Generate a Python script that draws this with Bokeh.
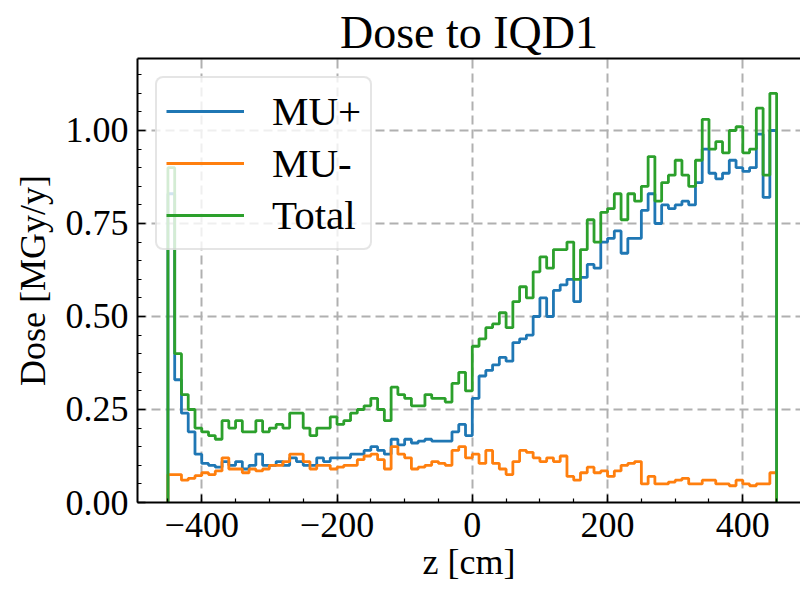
import numpy as np
from bokeh.plotting import figure
from bokeh.models import Range1d, FixedTicker, LinearAxis, Legend, LegendItem
from bokeh.embed import file_html
from bokeh.resources import INLINE

# ---- data (10 cm bins along z, values in MGy/y) ----
z_edges = list(range(-450, 451, 10))

mu_plus = [
    0.83, 0.33, 0.24, 0.19, 0.13, 0.105, 0.10, 0.095, 0.11, 0.10,
    0.11, 0.09, 0.10, 0.13, 0.10, 0.10, 0.11, 0.10, 0.12, 0.11,
    0.10, 0.10, 0.12, 0.11, 0.12, 0.12, 0.12, 0.13, 0.13, 0.14,
    0.15, 0.14, 0.13, 0.17, 0.155, 0.17, 0.16, 0.165, 0.17, 0.165,
    0.165, 0.165, 0.19, 0.21, 0.18, 0.28, 0.34, 0.355, 0.37, 0.39,
    0.38, 0.43, 0.44, 0.45, 0.50, 0.55, 0.50, 0.57, 0.585, 0.60,
    0.54, 0.605, 0.64, 0.63, 0.70, 0.71, 0.73, 0.67, 0.71, 0.71,
    0.785, 0.83, 0.75, 0.80, 0.79, 0.80, 0.81, 0.80, 0.86, 0.95,
    0.885, 0.87, 0.885, 0.92, 0.90, 0.89, 0.90, 0.99, 0.82, 1.00,
]

mu_minus = [
    0.075, 0.075, 0.06, 0.065, 0.072, 0.08, 0.075, 0.085, 0.12, 0.09,
    0.09, 0.08, 0.09, 0.085, 0.09, 0.10, 0.10, 0.11, 0.13, 0.13,
    0.11, 0.09, 0.10, 0.10, 0.09, 0.095, 0.10, 0.10, 0.115, 0.125,
    0.13, 0.115, 0.09, 0.15, 0.13, 0.12, 0.09, 0.095, 0.10, 0.11,
    0.105, 0.10, 0.14, 0.15, 0.12, 0.13, 0.105, 0.14, 0.105, 0.09,
    0.075, 0.11, 0.14, 0.135, 0.12, 0.11, 0.12, 0.11, 0.125, 0.07,
    0.06, 0.08, 0.095, 0.08, 0.085, 0.07, 0.085, 0.10, 0.105, 0.11,
    0.05, 0.07, 0.05, 0.05, 0.055, 0.06, 0.065, 0.05, 0.05, 0.06,
    0.06, 0.05, 0.05, 0.045, 0.06, 0.05, 0.045, 0.05, 0.05, 0.08,
]

total = [
    0.90, 0.40, 0.29, 0.25, 0.20, 0.19, 0.18, 0.17, 0.22, 0.20,
    0.22, 0.19, 0.19, 0.22, 0.19, 0.20, 0.21, 0.20, 0.24, 0.24,
    0.20, 0.18, 0.20, 0.20, 0.23, 0.21, 0.22, 0.24, 0.25, 0.26,
    0.28, 0.25, 0.22, 0.31, 0.29, 0.28, 0.26, 0.26, 0.29, 0.28,
    0.28, 0.27, 0.32, 0.35, 0.30, 0.42, 0.44, 0.47, 0.48, 0.51,
    0.47, 0.54, 0.58, 0.55, 0.62, 0.66, 0.63, 0.68, 0.68, 0.70,
    0.60, 0.68, 0.76, 0.70, 0.78, 0.79, 0.83, 0.76, 0.83, 0.81,
    0.85, 0.93, 0.81, 0.86, 0.88, 0.92, 0.88, 0.85, 0.92, 1.03,
    0.95, 0.97, 0.94, 1.00, 1.01, 0.94, 0.95, 1.06, 0.88, 1.10,
]

series_names = ["MU+", "MU-", "Total"]
series_colors = ["#1f77b4", "#ff7f0e", "#2ca02c"]

x_ticks = [-400, -200, 0, 200, 400]
x_tick_labels = ["\u2212400", "\u2212200", "0", "200", "400"]
x_minor_ticks = list(range(-450, 451, 50))
y_ticks = [0.0, 0.25, 0.5, 0.75, 1.0]
y_tick_labels = ["0.00", "0.25", "0.50", "0.75", "1.00"]
y_minor_ticks = [round(0.05 * i, 2) for i in range(0, 24)]

FONT = "Liberation Serif"


def step_outline(values):
    xs = [z_edges[0]] + z_edges[:-1] + [z_edges[-1]]
    ys = [0.0] + list(values) + [0.0]
    return xs, ys


p = figure(
    width=800, height=592,
    x_range=Range1d(-495, 485.3), y_range=Range1d(0, 1.1935),
    output_backend="svg", toolbar_location=None,
    min_border_left=137, min_border_right=0,
    min_border_top=58, min_border_bottom=90,
    title="Dose to IQD1",
)
p.background_fill_color = "white"
p.border_fill_color = "white"
p.outline_line_color = None

p.title.text_font = FONT
p.title.text_font_size = "46px"
p.title.text_font_style = "normal"
p.title.align = "center"
p.title.text_color = "black"
p.title.standoff = 2

renderers = []
for vals, color in zip([mu_plus, mu_minus, total], series_colors):
    xs, ys = step_outline(vals)
    r = p.step(xs, ys, mode="after", line_color=color, line_width=2.8)
    renderers.append(r)

# axes
p.xaxis.ticker = FixedTicker(ticks=x_ticks, minor_ticks=x_minor_ticks)
p.yaxis.ticker = FixedTicker(ticks=y_ticks, minor_ticks=y_minor_ticks)
p.xaxis.major_label_overrides = dict(zip(x_ticks, x_tick_labels))
p.yaxis.major_label_overrides = dict(zip(y_ticks, y_tick_labels))
p.xaxis.axis_label = "z [cm]"
p.yaxis.axis_label = "Dose [MGy/y]"

for ax in [p.xaxis[0], p.yaxis[0]]:
    ax.major_tick_in = 8
    ax.major_tick_out = 0
    ax.minor_tick_in = 4
    ax.minor_tick_out = 0
    ax.axis_line_width = 2
    ax.axis_line_color = "black"
    ax.major_tick_line_width = 1.5
    ax.minor_tick_line_width = 1.2
    ax.major_label_text_font = FONT
    ax.major_label_text_font_size = "36px"
    ax.major_label_text_color = "black"
    ax.axis_label_text_font = FONT
    ax.axis_label_text_font_size = "36px"
    ax.axis_label_text_font_style = "normal"
    ax.axis_label_text_color = "black"

p.xaxis.major_label_standoff = 10
p.xaxis.axis_label_standoff = 2
p.yaxis.major_label_standoff = 9
p.yaxis.axis_label_standoff = 10

top = LinearAxis(ticker=FixedTicker(ticks=[]), major_label_text_font_size="0px",
                 major_tick_in=0, major_tick_out=0, minor_tick_in=0, minor_tick_out=0,
                 major_label_standoff=0, axis_label_standoff=0,
                 axis_line_width=2, axis_line_color="black")
p.add_layout(top, "above")

# grid
p.grid.grid_line_color = "#b0b0b0"
p.grid.grid_line_dash = "9 5"
p.grid.grid_line_width = 2

# legend
items = [LegendItem(label=n, renderers=[r]) for n, r in zip(series_names, renderers)]
legend = Legend(items=items, location="top_left")
legend.label_text_font = FONT
legend.label_text_font_size = "41px"
legend.label_text_color = "black"
legend.glyph_width = 78
legend.glyph_height = 20
legend.label_standoff = 28
legend.padding = 9
legend.spacing = 4
legend.margin = 18
legend.border_line_color = "#cccccc"
legend.border_line_width = 2
legend.background_fill_color = "white"
legend.background_fill_alpha = 0.8
if "border_radius" in Legend.properties():
    legend.border_radius = 8
p.add_layout(legend)

open("out.html", "w").write(file_html(p, INLINE))
